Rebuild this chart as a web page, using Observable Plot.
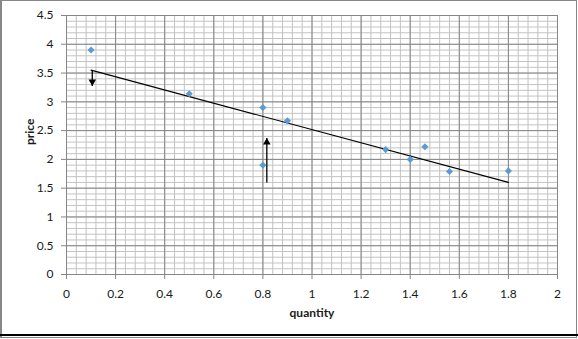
<!DOCTYPE html>
<html>
<head>
<meta charset="utf-8">
<script src="https://cdn.jsdelivr.net/npm/d3@7"></script>
<script src="https://cdn.jsdelivr.net/npm/@observablehq/plot@0.6"></script>
<style>
  html, body { margin: 0; padding: 0; background: #fff; }
  #wrap { position: relative; width: 578px; height: 339px; overflow: hidden; }
  #wrap svg { position: absolute; left: 0; top: 0; }
  #frame { position: absolute; left: 0; top: 0; width: 577px; height: 338px; box-sizing: border-box;
           border: 1px solid #878787; border-left-width: 2px; pointer-events: none; }
  #rule { position: absolute; left: 0; top: 334px; width: 578px; height: 2px; background: #000; }
</style>
</head>
<body>
<div id="wrap"><div id="frame"></div><div id="rule"></div></div>
<script>
// data
const quantity = [0.1, 0.5, 0.8, 0.8, 0.9, 1.3, 1.4, 1.46, 1.56, 1.8];
const price    = [3.9, 3.14, 2.9, 1.9, 2.67, 2.17, 2.0, 2.22, 1.79, 1.8];

// trend line end points
const trendQuantity = [0.1, 1.8];
const trendPrice    = [3.55, 1.6];

// annotation arrows (x, start, tip)
const arrowQuantity = [0.105, 0.816];
const arrowFrom     = [3.55, 1.6];
const arrowTo       = [3.275, 2.37];
const arrowDir      = ["down", "up"];

// ticks
const xTicks = [0, 0.2, 0.4, 0.6, 0.8, 1, 1.2, 1.4, 1.6, 1.8, 2];
const xTickLabels = ["0", "0.2", "0.4", "0.6", "0.8", "1", "1.2", "1.4", "1.6", "1.8", "2"];
const yTicks = [0, 0.5, 1, 1.5, 2, 2.5, 3, 3.5, 4, 4.5];
const yTickLabels = ["0", "0.5", "1", "1.5", "2", "2.5", "3", "3.5", "4", "4.5"];
const minorX = d3.range(0, 51).map(i => +(i * 0.04).toFixed(2));
const minorY = d3.range(0, 46).map(i => +(i * 0.1).toFixed(1));

const xTitle = "quantity";
const yTitle = "price";

const points = quantity.map((q, i) => ({quantity: q, price: price[i]}));
const trend = trendQuantity.map((q, i) => ({quantity: q, price: trendPrice[i]}));
const arrows = arrowQuantity.map((q, i) => ({quantity: q, from: arrowFrom[i], to: arrowTo[i], dir: arrowDir[i]}));

const major = "#868686";
const minor = "#c3c3c3";

const chart = Plot.plot({
  width: 578,
  height: 339,
  marginLeft: 66,
  marginRight: 21,
  marginTop: 15,
  marginBottom: 65,
  style: {fontFamily: "Lato, 'Open Sans', sans-serif", fontSize: "12px", color: "#1a1a1a", background: "transparent"},
  x: {domain: [0, 2]},
  y: {domain: [0, 4.5]},
  marks: [
    Plot.ruleX(minorX, {stroke: minor, strokeWidth: 1}),
    Plot.ruleY(minorY, {stroke: minor, strokeWidth: 1}),
    Plot.ruleX(xTicks, {stroke: major, strokeWidth: 1}),
    Plot.ruleY(yTicks, {stroke: major, strokeWidth: 1}),
    Plot.axisX({ticks: xTicks, tickFormat: (d, i) => xTickLabels[i], tickSize: 5, tickPadding: 10,
      stroke: major, label: null}),
    Plot.axisY({ticks: yTicks, tickFormat: (d, i) => yTickLabels[i], tickSize: 5, tickPadding: 8,
      stroke: major, label: null}),
    Plot.text([xTitle], {text: d => d, frameAnchor: "bottom", dy: 38.5, lineAnchor: "middle",
      fontWeight: "bold", fontSize: 12, fill: "#1a1a1a"}),
    Plot.text([yTitle], {text: d => d, frameAnchor: "left", dx: -36, rotate: -90, lineAnchor: "middle",
      fontWeight: "bold", fontSize: 12, fill: "#1a1a1a"}),
    Plot.line(trend, {x: "quantity", y: "price", stroke: "#000", strokeWidth: 1.2}),
    Plot.link(arrows, {x1: "quantity", x2: "quantity", y1: "from", y2: "to", stroke: "#000", strokeWidth: 1.3}),
    Plot.dot(arrows.filter(a => a.dir === "down"), {x: "quantity", y: "to", symbol: "triangle", r: 2.8, rotate: 180, dy: -4.3, fill: "#000"}),
    Plot.dot(arrows.filter(a => a.dir === "up"), {x: "quantity", y: "to", symbol: "triangle", r: 2.8, dy: 4.3, fill: "#000"}),
    Plot.dot(points, {x: "quantity", y: "price", symbol: "diamond2", r: 3.2, fill: "#5B9BD5"})
  ]
});
document.getElementById("wrap").prepend(chart);
</script>
</body>
</html>
